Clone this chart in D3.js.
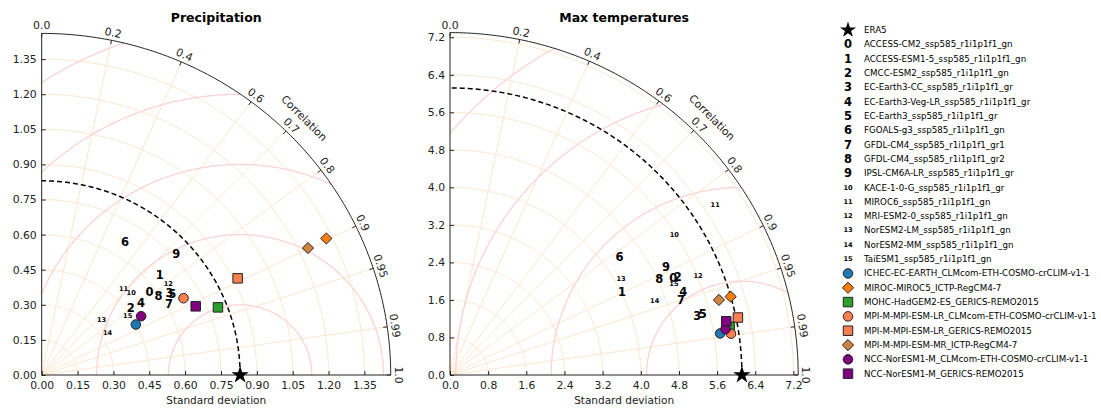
<!DOCTYPE html>
<html>
<head>
<meta charset="utf-8">
<script src="https://cdn.jsdelivr.net/npm/d3@7"></script>
<style>
  body { margin: 0; background: #fff; }
  text { font-family: "DejaVu Sans", sans-serif; }
</style>
</head>
<body>
<svg id="chart"></svg>
<script>
const W = 1101, H = 410;

// model names (legend order)
const gcmNames = [
  "ACCESS-CM2_ssp585_r1i1p1f1_gn", "ACCESS-ESM1-5_ssp585_r1i1p1f1_gn", "CMCC-ESM2_ssp585_r1i1p1f1_gn",
  "EC-Earth3-CC_ssp585_r1i1p1f1_gr", "EC-Earth3-Veg-LR_ssp585_r1i1p1f1_gr", "EC-Earth3_ssp585_r1i1p1f1_gr",
  "FGOALS-g3_ssp585_r1i1p1f1_gn", "GFDL-CM4_ssp585_r1i1p1f1_gr1", "GFDL-CM4_ssp585_r1i1p1f1_gr2",
  "IPSL-CM6A-LR_ssp585_r1i1p1f1_gr", "KACE-1-0-G_ssp585_r1i1p1f1_gr", "MIROC6_ssp585_r1i1p1f1_gn",
  "MRI-ESM2-0_ssp585_r1i1p1f1_gn", "NorESM2-LM_ssp585_r1i1p1f1_gn", "NorESM2-MM_ssp585_r1i1p1f1_gn",
  "TaiESM1_ssp585_r1i1p1f1_gn"
];
const rcmNames = [
  "ICHEC-EC-EARTH_CLMcom-ETH-COSMO-crCLIM-v1-1", "MIROC-MIROC5_ICTP-RegCM4-7", "MOHC-HadGEM2-ES_GERICS-REMO2015",
  "MPI-M-MPI-ESM-LR_CLMcom-ETH-COSMO-crCLIM-v1-1", "MPI-M-MPI-ESM-LR_GERICS-REMO2015", "MPI-M-MPI-ESM-MR_ICTP-RegCM4-7",
  "NCC-NorESM1-M_CLMcom-ETH-COSMO-crCLIM-v1-1", "NCC-NorESM1-M_GERICS-REMO2015"
];
const rcmColors = ["#1f77b4", "#ff7f0e", "#2ca02c", "#ff7f50", "#ff7f50", "#cd853f", "#800080", "#800080"];
const rcmShapes = ["circle", "diamond", "square", "circle", "square", "diamond", "circle", "square"];

const corrTicks = [0, 0.2, 0.4, 0.6, 0.7, 0.8, 0.9, 0.95, 0.99, 1.0];

// Precipitation
const precipRef = 0.83;
const precipStdTicks = [0, 0.15, 0.30, 0.45, 0.60, 0.75, 0.90, 1.05, 1.20, 1.35];
const precipRms = [0.3, 0.6, 0.9, 1.2, 1.5];
const precipGcmStd  = [0.574, 0.652, 0.469, 0.639, 0.518, 0.646, 0.666, 0.614, 0.593, 0.765, 0.514, 0.501, 0.658, 0.343, 0.328, 0.439];
const precipGcmCorr = [0.786, 0.757, 0.795, 0.837, 0.803, 0.845, 0.524, 0.868, 0.824, 0.736, 0.728, 0.683, 0.805, 0.731, 0.841, 0.819];
const precipRcmStd  = [0.449, 1.326, 0.792, 0.678, 0.918, 1.239, 0.486, 0.708];
const precipRcmCorr = [0.877, 0.898, 0.931, 0.875, 0.893, 0.899, 0.856, 0.910];

// Max temperatures
const tmaxRef = 6.12;
const tmaxStdTicks = [0, 0.8, 1.6, 2.4, 3.2, 4.0, 4.8, 5.6, 6.4, 7.2];
const tmaxRms = [2, 4, 6, 8];
const tmaxGcmStd  = [5.118, 4.014, 5.211, 5.335, 5.201, 5.458, 4.347, 5.100, 4.845, 5.077, 5.570, 6.634, 5.611, 4.131, 4.570, 5.081];
const tmaxGcmCorr = [0.915, 0.898, 0.916, 0.972, 0.940, 0.971, 0.817, 0.950, 0.906, 0.892, 0.844, 0.838, 0.927, 0.868, 0.939, 0.924];
const tmaxRcmStd  = [5.733, 6.116, 5.953, 5.957, 6.159, 5.861, 5.858, 5.904];
const tmaxRcmCorr = [0.988, 0.962, 0.985, 0.989, 0.980, 0.962, 0.986, 0.981];

const svg = d3.select("#chart")
    .attr("width", W)
    .attr("height", H)
    .style("background", "#fff");

const gridColor = "#fde6cc";
const rmsColor = "#fbd3d3";

function shapePath(shape) {
    if (shape === "circle") return d3.symbol(d3.symbolCircle, 72)();
    if (shape === "square") return d3.symbol(d3.symbolSquare, 90)();
    // diamond: rotated square
    const s = 5.6;
    return `M0,${-s}L${s},0L0,${s}L${-s},0Z`;
}

function numSize(i) { return i < 10 ? 11.5 : 6.6; }

function drawTaylor(o) {
    const x = d3.scaleLinear().domain([0, o.smax]).range([o.x0, o.x1]);
    const y = d3.scaleLinear().domain([0, o.smax]).range([o.yBase, o.yTop]);
    const px = (r, t) => [x(r * Math.cos(t)), y(r * Math.sin(t))];
    const g = svg.append("g");

    const arc = (r, t0, t1) => d3.line()(d3.range(0, 201).map(i => px(r, t0 + (t1 - t0) * i / 200)));

    const clipId = "clip" + o.id;
    g.append("clipPath").attr("id", clipId)
        .append("path")
        .attr("d", arc(o.smax, 0, Math.PI / 2) + `L${x(0)},${y(0)}Z`);

    // std arcs grid
    g.selectAll(".sgrid").data(o.stdTicks.filter(d => d > 0)).enter()
        .append("path")
        .attr("d", d => arc(d, 0, Math.PI / 2))
        .attr("fill", "none").attr("stroke", gridColor).attr("stroke-width", 1);

    // correlation radial grid
    g.selectAll(".cgrid").data(corrTicks.filter(c => c > 0 && c < 1)).enter()
        .append("line")
        .attr("x1", x(0)).attr("y1", y(0))
        .attr("x2", c => px(o.smax, Math.acos(c))[0])
        .attr("y2", c => px(o.smax, Math.acos(c))[1])
        .attr("stroke", gridColor).attr("stroke-width", 1);

    // RMS contours centred on the reference
    g.append("g").attr("clip-path", `url(#${clipId})`)
        .selectAll("path").data(o.rms).enter()
        .append("path")
        .attr("d", rr => d3.line()(d3.range(0, 361).map(i => {
            const a = Math.PI * i / 360;
            return [x(o.ref + rr * Math.cos(a)), y(rr * Math.sin(a))];
        })))
        .attr("fill", "none").attr("stroke", rmsColor).attr("stroke-width", 1.3);

    // axes
    const fmt = d3.format(o.fmt);
    const xAxis = g.append("g").attr("transform", `translate(0,${o.yBase})`)
        .call(d3.axisBottom(x).tickValues(o.stdTicks).tickFormat(fmt).tickSizeInner(-4).tickSizeOuter(0).tickPadding(6));
    const yAxis = g.append("g").attr("transform", `translate(${o.x0},0)`)
        .call(d3.axisLeft(y).tickValues(o.stdTicks).tickFormat(fmt).tickSizeInner(-4).tickSizeOuter(0).tickPadding(5));
    [xAxis, yAxis].forEach(a => {
        a.selectAll("text").attr("font-size", 10.8).attr("fill", "#222").attr("font-family", "DejaVu Sans");
        a.selectAll("line, path").attr("stroke", "#222");
    });
    yAxis.select(".domain").attr("d", `M0,${y(0)}V${y(o.smax)}`);
    xAxis.select(".domain").attr("d", `M${x(0)},0H${x(o.smax)}`);

    // outer arc
    g.append("path").attr("d", arc(o.smax, 0, Math.PI / 2))
        .attr("fill", "none").attr("stroke", "#222").attr("stroke-width", 1);

    // correlation ticks + labels
    corrTicks.forEach(c => {
        const t = Math.acos(c);
        const [ax, ay] = px(o.smax, t);
        g.append("line")
            .attr("x1", ax).attr("y1", ay)
            .attr("x2", ax - 4 * Math.cos(t)).attr("y2", ay + 4 * Math.sin(t))
            .attr("stroke", "#222");
        const lx = ax + 7.5 * Math.cos(t), ly = ay - 7.5 * Math.sin(t);
        g.append("text")
            .attr("transform", `translate(${lx},${ly}) rotate(${90 - t * 180 / Math.PI})`)
            .attr("text-anchor", "middle").attr("dominant-baseline", "central")
            .attr("font-size", 10.8).attr("fill", "#222")
            .text(c.toFixed(c === 0.95 || c === 0.99 ? 2 : 1));
    });
    const [cx, cy] = px(o.smax * 1.063, Math.PI / 4);
    g.append("text")
        .attr("transform", `translate(${cx},${cy}) rotate(45)`)
        .attr("text-anchor", "middle").attr("dominant-baseline", "central")
        .attr("font-size", 10.8).attr("fill", "#222")
        .text("Correlation");

    // reference dashed arc
    g.append("path").attr("d", arc(o.ref, 0, Math.PI / 2))
        .attr("fill", "none").attr("stroke", "#000").attr("stroke-width", 1.5)
        .attr("stroke-dasharray", "5,3");

    // GCM numbered markers
    g.selectAll(".gcm").data(o.gcmStd).enter()
        .append("text")
        .attr("x", (s, i) => px(s, Math.acos(o.gcmCorr[i]))[0])
        .attr("y", (s, i) => px(s, Math.acos(o.gcmCorr[i]))[1])
        .attr("text-anchor", "middle").attr("dominant-baseline", "central")
        .attr("font-weight", "bold")
        .attr("font-size", (s, i) => numSize(i))
        .text((s, i) => i);

    // RCM markers
    g.selectAll(".rcm").data(o.rcmStd).enter()
        .append("path")
        .attr("transform", (s, i) => {
            const p = px(s, Math.acos(o.rcmCorr[i]));
            return `translate(${p[0]},${p[1]})`;
        })
        .attr("d", (s, i) => shapePath(rcmShapes[i]))
        .attr("fill", (s, i) => rcmColors[i])
        .attr("stroke", "#222").attr("stroke-width", 1);

    // reference star
    g.append("path")
        .attr("transform", `translate(${x(o.ref)},${y(0)})`)
        .attr("d", d3.symbol(d3.symbolStar, 95)())
        .attr("fill", "#000");

    // titles
    g.append("text")
        .attr("x", (o.x0 + o.x1) / 2).attr("y", 22)
        .attr("text-anchor", "middle").attr("font-weight", "bold").attr("font-size", 12.5)
        .text(o.title);
    g.append("text")
        .attr("x", (o.x0 + o.x1) / 2).attr("y", 404)
        .attr("text-anchor", "middle").attr("font-size", 10.5).attr("fill", "#222")
        .text("Standard deviation");
}

drawTaylor({
    id: "p", title: "Precipitation", x0: 41.7, x1: 390.7, yBase: 375, yTop: 33.4, smax: 1.46,
    ref: precipRef, stdTicks: precipStdTicks, fmt: ".2f", rms: precipRms,
    gcmStd: precipGcmStd, gcmCorr: precipGcmCorr, rcmStd: precipRcmStd, rcmCorr: precipRcmCorr
});
drawTaylor({
    id: "t", title: "Max temperatures", x0: 450, x1: 798.2, yBase: 375, yTop: 32.6, smax: 7.3,
    ref: tmaxRef, stdTicks: tmaxStdTicks, fmt: ".1f", rms: tmaxRms,
    gcmStd: tmaxGcmStd, gcmCorr: tmaxGcmCorr, rcmStd: tmaxRcmStd, rcmCorr: tmaxRcmCorr
});

// legend
const lg = svg.append("g");
const rowY = i => 30 + i * 14.32;
lg.append("path").attr("transform", `translate(848,${rowY(0)})`)
    .attr("d", d3.symbol(d3.symbolStar, 80)()).attr("fill", "#000");
lg.append("text").attr("x", 864).attr("y", rowY(0)).attr("dominant-baseline", "central")
    .attr("font-size", 8.7).text("ERA5");
gcmNames.forEach((n, i) => {
    lg.append("text").attr("x", 848).attr("y", rowY(i + 1))
        .attr("text-anchor", "middle").attr("dominant-baseline", "central")
        .attr("font-weight", "bold").attr("font-size", numSize(i)).text(i);
    lg.append("text").attr("x", 864).attr("y", rowY(i + 1)).attr("dominant-baseline", "central")
        .attr("font-size", 8.7).text(n);
});
rcmNames.forEach((n, i) => {
    const yy = rowY(i + 17);
    lg.append("path").attr("transform", `translate(848,${yy})`)
        .attr("d", shapePath(rcmShapes[i]))
        .attr("fill", rcmColors[i]).attr("stroke", "#222").attr("stroke-width", 1);
    lg.append("text").attr("x", 864).attr("y", yy).attr("dominant-baseline", "central")
        .attr("font-size", 8.7).text(n);
});
</script>
</body>
</html>
